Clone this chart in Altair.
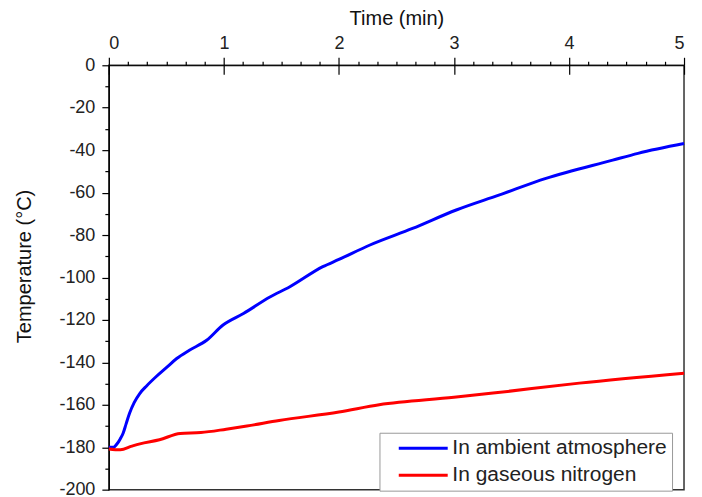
import altair as alt
import pandas as pd

# Blue: in ambient atmosphere
t_ambient = [0, 0.04, 0.07, 0.10, 0.124, 0.15, 0.18, 0.22, 0.27, 0.33, 0.41, 0.50, 0.59,
             0.70, 0.85, 0.99, 1.17, 1.40, 1.57, 1.86, 2.0, 2.27, 2.64, 3.02, 3.39, 3.80,
             4.38, 4.60, 5.0]
T_ambient = [-180, -180, -178.5, -176, -173.4, -169, -164, -159, -154.6, -151, -146.8,
             -142.5, -138.2, -134.3, -129.6, -122.5, -117, -109.2, -104.5, -94.9, -91.5,
             -84.7, -76.9, -68.2, -61.2, -53.3, -44.7, -41.5, -36.9]
# Red: in gaseous nitrogen
t_n2 = [0, 0.1, 0.2, 0.27, 0.44, 0.62, 0.8, 1.02, 1.2, 1.48, 2.0, 2.35, 3.0, 3.34, 4.09, 5.0]
T_n2 = [-180.8, -181.2, -179.5, -178.4, -176.5, -173.5, -173.1, -171.5, -170, -167.4,
        -163.4, -160, -156.5, -154.5, -149.8, -145.1]

series_names = ["In ambient atmosphere", "In gaseous nitrogen"]
series_colors = ["#0000ff", "#ff0000"]

x_major = [0, 1, 2, 3, 4, 5]
x_minor = [i / 6 for i in range(31) if i % 6 != 0]
y_major = list(range(0, -201, -20))
y_minor = list(range(-10, -200, -20))

rows = []
for t, v in zip(t_ambient, T_ambient):
    rows.append({"t": t, "T": v, "s": series_names[0], "o": 0})
for t, v in zip(t_n2, T_n2):
    rows.append({"t": t, "T": v, "s": series_names[1], "o": 1})
df = pd.DataFrame(rows)

FONT = "Liberation Sans"
xscale = alt.Scale(domain=[0, 5], nice=False, zero=False)
yscale = alt.Scale(domain=[-200, 0], nice=False, zero=False)

lines = alt.Chart(df).mark_line(strokeWidth=3, interpolate="monotone").encode(
    x=alt.X("t:Q", scale=xscale,
            axis=alt.Axis(orient="top", values=x_major, title="Time (min)",
                          tickSize=8, labelPadding=5, labelExpr="toString(datum.value)",
                          titleY=-41, titleBaseline="alphabetic", titleX=288)),
    y=alt.Y("T:Q", scale=yscale,
            axis=alt.Axis(orient="left", values=y_major, title="Temperature (°C)",
                          tickSize=7, labelPadding=7, labelExpr="toString(datum.value)",
                          titleX=-78, titleY=201, titleBaseline="alphabetic",
                          titleAngle=-90, titleAlign="center")),
    color=alt.Color("s:N", scale=alt.Scale(domain=series_names, range=series_colors),
                    legend=alt.Legend(title=None, orient="none", legendX=271, legendY=368,
                                      symbolType="M-1,0H5", symbolSize=267,
                                      symbolStrokeWidth=3, labelFontSize=21,
                                      labelFont=FONT, labelColor="#222", labelLimit=400,
                                      strokeColor="#999", fillColor="white",
                                      padding=5, symbolOffset=12, labelOffset=35,
                                      rowPadding=5)),
    order="o:Q",
    detail="s:N",
)

minor = alt.Chart(df).mark_point(opacity=0).encode(
    x=alt.X("t:Q", scale=xscale,
            axis=alt.Axis(orient="top", values=x_minor, labels=False, title=None,
                          tickSize=4, domain=False)),
    y=alt.Y("T:Q", scale=yscale,
            axis=alt.Axis(orient="left", values=y_minor, labels=False, title=None,
                          tickSize=4, domain=False)),
)

inner = alt.Chart(df).mark_point(opacity=0).encode(
    x=alt.X("t:Q", scale=xscale,
            axis=alt.Axis(orient="top", values=x_major, labels=False, title=None,
                          tickSize=9, domain=False, offset=-9)),
    y=alt.Y("T:Q", scale=yscale, axis=None),
)

chart = alt.layer(lines, minor, inner).resolve_axis(
    x="independent", y="independent"
).resolve_scale(x="shared", y="shared").properties(
    width=576, height=425,
    autosize=alt.AutoSizeParams(type="none"),
    padding={"left": 101, "top": 57, "right": 10, "bottom": 10},
).configure_view(
    stroke="#333", strokeWidth=1.5
).configure_axis(
    domainColor="#000", tickColor="#000", labelColor="#222", titleColor="#111",
    labelFont=FONT, titleFont=FONT, labelFontSize=18, titleFontSize=20,
    titleFontWeight="normal", grid=False, domainWidth=1.2, tickWidth=1.2,
)

chart.save("out.html", embed_options={"renderer": "svg", "actions": False})
